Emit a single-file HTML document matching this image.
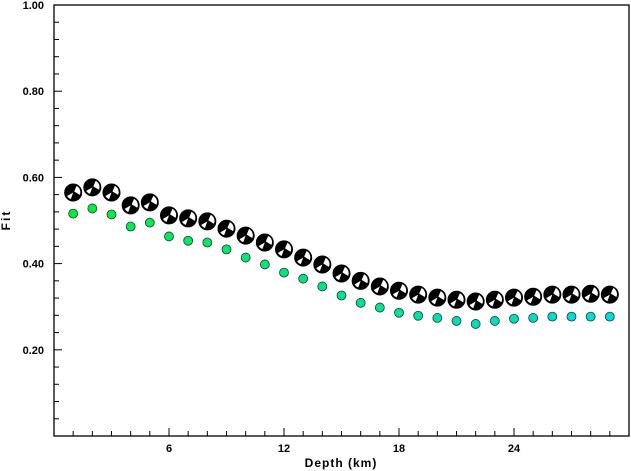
<!DOCTYPE html>
<html><head><meta charset="utf-8"><style>
body{margin:0;background:#fff;}
svg{display:block;font-family:"Liberation Sans",Arial,sans-serif;}
</style></head><body>
<svg id="chart" width="631" height="471" viewBox="0 0 631 471">
<g id="axes"></g>
<g id="marks"></g>
<text x="341" y="467" font-size="12" font-weight="bold" text-anchor="middle" letter-spacing="1">Depth (km)</text>
<text x="10" y="220" font-size="12" font-weight="bold" text-anchor="middle" letter-spacing="2" transform="rotate(-90 10 220)">Fit</text>
</svg>
<script>
const depths=[1,2,3,4,5,6,7,8,9,10,11,12,13,14,15,16,17,18,19,20,21,22,23,24,25,26,27,28,29];
const fitBest=[0.565,0.577,0.565,0.535,0.542,0.512,0.505,0.498,0.481,0.465,0.449,0.433,0.414,0.398,0.377,0.360,0.347,0.337,0.328,0.321,0.316,0.312,0.316,0.321,0.323,0.328,0.328,0.330,0.328];
const fitAlt=[0.516,0.528,0.514,0.486,0.495,0.463,0.453,0.449,0.433,0.414,0.398,0.379,0.365,0.347,0.326,0.309,0.298,0.286,0.279,0.274,0.267,0.260,0.267,0.272,0.274,0.277,0.277,0.277,0.277];
const xTicks=[6,12,18,24];
const yTicks=[0.20,0.40,0.60,0.80,1.00];
const L=54,R=629,T=5,B=436;
const xs=d=>L+(d/30)*(R-L);
const ys=v=>B-v*(B-T);
const NS="http://www.w3.org/2000/svg";
function mk(tag,attrs,parent){const e=document.createElementNS(NS,tag);for(const k in attrs)e.setAttribute(k,attrs[k]);parent.appendChild(e);return e;}
const ax=document.getElementById('axes'),mg=document.getElementById('marks');
const frame=mk('rect',{x:L,y:T,width:R-L,height:B-T,fill:'none',stroke:'#000','stroke-width':1.3},ax);


for(let d=1;d<30;d++){const big=d%6===0;const t=mk('line',{x1:xs(d),x2:xs(d),y1:B,y2:B-(big?8:5),stroke:'#000'},ax);

}
for(let i=1;i<25;i++){const v=i*0.04;const big=Math.abs(v*5-Math.round(v*5))<1e-6;const t=mk('line',{x1:L,x2:L+(big?8:5),y1:ys(v),y2:ys(v),stroke:'#000'},ax);

}
xTicks.forEach(d=>{const t=mk('text',{x:xs(d),y:B+16,'font-size':11,'font-weight':'bold','text-anchor':'middle'},ax);t.textContent=d;

});
yTicks.forEach(v=>{const t=mk('text',{x:L-10,y:ys(v)+4,'font-size':11,'font-weight':'bold','text-anchor':'end'},ax);t.textContent=v.toFixed(2);

});
depths.forEach((d,i)=>{
 const f=i/(depths.length-1);
 const g=Math.round(238-20*f),b=Math.round(60+160*f);
 const c=mk('circle',{cx:xs(d),cy:ys(fitAlt[i]),r:4.5,fill:`rgb(0,${g},${b})`,stroke:'#333','stroke-width':0.8},mg);
 
 
 const cx=xs(d),cy=ys(fitBest[i]),r=8.5;
 const bg=mk('g',{},mg);
 
 
 mk('circle',{cx,cy,r,fill:'#000',stroke:'#000','stroke-width':1},bg);
 const a0=-70*Math.PI/180,a1=20*Math.PI/180;
 const r2=r-1.5;
 mk('path',{d:`M${cx+1},${cy-1} L${cx+r2*Math.cos(a0)+1},${cy+r2*Math.sin(a0)} A${r2},${r2} 0 0 1 ${cx+r2*Math.cos(a1)},${cy+r2*Math.sin(a1)} Z`,fill:'#fff'},bg);
 const a2=110*Math.PI/180,a3=150*Math.PI/180;
 mk('path',{d:`M${cx},${cy} L${cx+r2*Math.cos(a2)},${cy+r2*Math.sin(a2)} A${r2},${r2} 0 0 1 ${cx+r2*Math.cos(a3)},${cy+r2*Math.sin(a3)} Z`,fill:'#fff'},bg);
});
</script>
</body></html>
